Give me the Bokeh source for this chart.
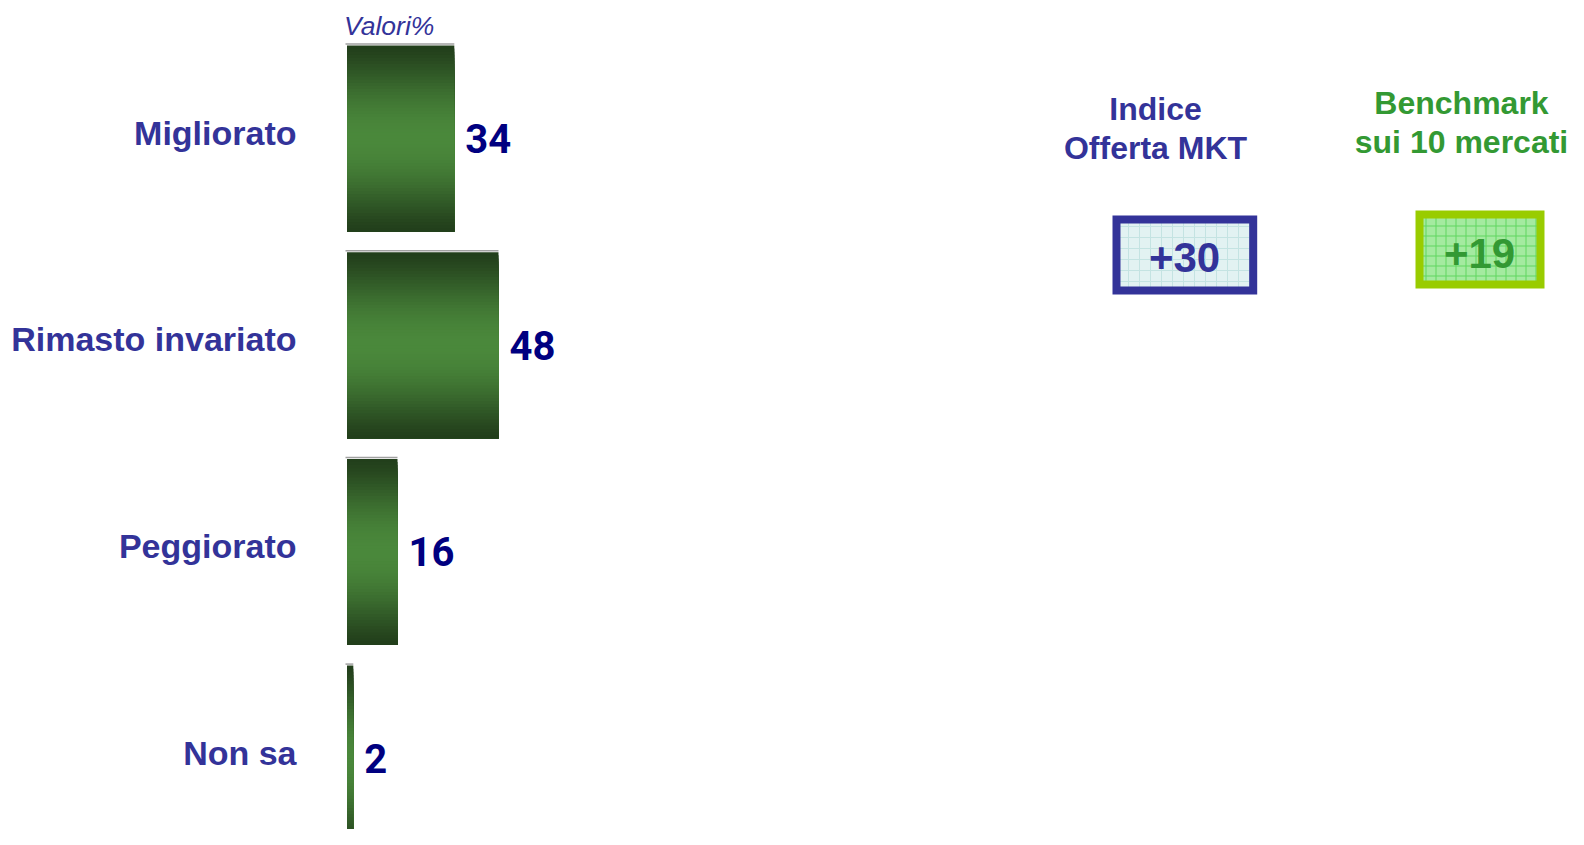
import math
from bokeh.plotting import figure
from bokeh.models import Range1d, ColumnDataSource
from bokeh.core.properties import value
from bokeh.embed import file_html
from bokeh.resources import INLINE

# ---------------- data ----------------
categories = ["Migliorato", "Rimasto invariato", "Peggiorato", "Non sa"]
values = [34, 48, 16, 2]
unit_label = "Valori%"
index_title = ["Indice", "Offerta MKT"]
index_value = [30]
bench_title = ["Benchmark", "sui 10 mercati"]
bench_value = [19]

# ---------------- layout helpers (pixel -> data) ----------------
W, H = 1568, 829
X0_PX, PX_PER_UNIT = 346.5, 3.156          # px of value 0, px per % point
Y0_PX, PX_PER_SLOT = 138.0, 206.7          # px of first category centre, spacing

def px2x(px):
    return (px - X0_PX) / PX_PER_UNIT

def px2y(py):
    return (py - Y0_PX) / PX_PER_SLOT

p = figure(width=W, height=H, output_backend="svg", toolbar_location=None,
           x_range=Range1d(px2x(0), px2x(W)),
           y_range=Range1d(px2y(H), px2y(0)),
           x_axis_type=None, y_axis_type=None, min_border=0)
p.outline_line_color = None
p.xgrid.visible = False
p.ygrid.visible = False
p.background_fill_color = "white"
p.border_fill_color = "white"

# ---------------- gradient bars (overlapping strips, painter's order) ----------------
dark = (34, 62, 27)
light = (74, 136, 59)
N = 60
bar_h = 186.0 / PX_PER_SLOT
L, R, T, B, cols = [], [], [], [], []
for i, v in enumerate(values):
    top = i - bar_h / 2
    bottom = i + bar_h / 2
    for k in range(N):
        t = (k + 0.5) / N
        s = math.sin(math.pi * t) ** 1.3
        c = tuple(int(round(d + (l - d) * s)) for d, l in zip(dark, light))
        L.append(0)
        R.append(v)
        T.append(top + k * bar_h / N)
        B.append(bottom)
        cols.append("#%02x%02x%02x" % c)
p.quad(left=L, right=R, top=T, bottom=B, fill_color=cols, line_color=None)

src = ColumnDataSource(dict(y=list(range(len(categories))), v=values,
                            lab=[str(v) for v in values], cat=categories))
# thin grey rim on top of each bar
rim_y = [i - bar_h / 2 - 1.5 / PX_PER_SLOT for i in range(len(values))]
p.segment(x0=[px2x(345)] * len(values), x1=values, y0=rim_y, y1=rim_y,
          line_color="#8a8a8a", line_width=1.5, line_alpha=0.8)

# value labels
p.text(x="v", y="y", text="lab", source=src, x_offset=11, y_offset=0,
       text_font=value("Roboto"), text_font_style="bold",
       text_font_size="40px", text_color="#000080",
       text_align="left", text_baseline="middle")

# category labels
p.text(x=px2x(296), y="y", text="cat", source=src, y_offset=-6,
       text_font=value("Liberation Sans"), text_font_style="bold",
       text_font_size="34px", text_color="#333399",
       text_align="right", text_baseline="middle")

# unit label
p.text(x=[px2x(343.5)], y=[px2y(25)], text=[unit_label],
       text_font=value("Liberation Sans"), text_font_style="italic",
       text_font_size="26.5px", text_color="#333399",
       text_align="left", text_baseline="middle")

# ---------------- right-hand boxes ----------------
p.text(x=[px2x(1155)] * 2, y=[px2y(108), px2y(147.5)], text=index_title,
       text_font=value("Liberation Sans"), text_font_style="bold",
       text_font_size="32px", text_color="#333399",
       text_align="center", text_baseline="middle")
p.text(x=[px2x(1461)] * 2, y=[px2y(102), px2y(141.5)], text=bench_title,
       text_font=value("Liberation Sans"), text_font_style="bold",
       text_font_size="32px", text_color="#339933",
       text_align="center", text_baseline="middle")

# index box
p.quad(left=[px2x(1116)], right=[px2x(1252.7)], top=[px2y(219)], bottom=[px2y(290)],
       fill_color="#e2f2f2", line_color="#333399", line_width=8, line_join="miter",
       hatch_pattern="+", hatch_color="#c4e3e2", hatch_scale=11, hatch_weight=1)
p.text(x=[px2x(1184)], y=[px2y(257)], text=["+%d" % v for v in index_value],
       text_font=value("Liberation Sans"), text_font_style="bold",
       text_font_size="42px", text_color="#333399",
       text_align="center", text_baseline="middle")

# benchmark box
p.quad(left=[px2x(1419)], right=[px2x(1540)], top=[px2y(214)], bottom=[px2y(284)],
       fill_color="#a4eaa0", line_color="#99cc00", line_width=8, line_join="miter",
       hatch_pattern="+", hatch_color="#5fd65f", hatch_scale=10, hatch_weight=1)
p.text(x=[px2x(1479)], y=[px2y(253)], text=["+%d" % v for v in bench_value],
       text_font=value("Liberation Sans"), text_font_style="bold",
       text_font_size="42px", text_color="#339933",
       text_align="center", text_baseline="middle")

open("out.html", "w").write(file_html(p, INLINE))
